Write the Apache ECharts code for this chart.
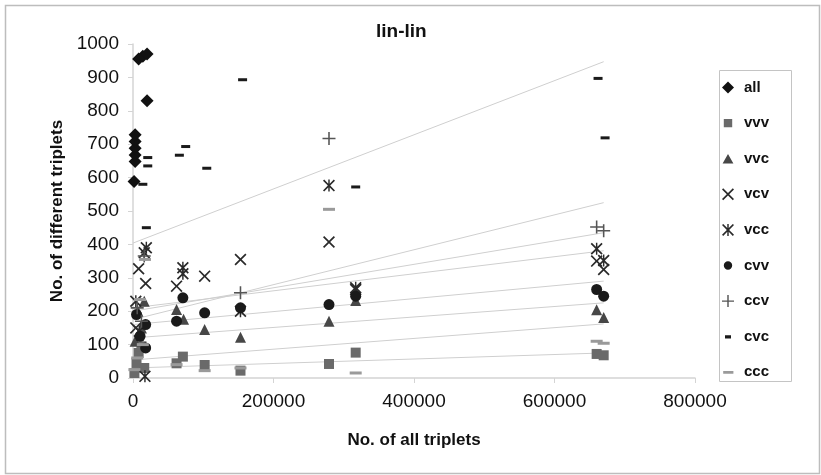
<!DOCTYPE html>
<html>
<head>
<meta charset="utf-8">
<script src="https://cdn.jsdelivr.net/npm/echarts@6/dist/echarts.min.js"></script>
<style>
  html, body { margin: 0; padding: 0; background: #fff; }
  #chart { width: 821px; height: 475px; }
</style>
</head>
<body>
<div id="chart"></div>
<script>
// x ticks and y ticks
const xTicks = [0, 200000, 400000, 600000, 800000];
const yTicks = [0, 100, 200, 300, 400, 500, 600, 700, 800, 900, 1000];

const seriesNames = ["all", "vvv", "vvc", "vcv", "vcc", "cvv", "ccv", "cvc", "ccc"];

// points per series: [no. of all triplets, no. of different triplets]
const allPts = [[1500, 588], [3000, 648], [3000, 668], [3000, 688], [3000, 708], [3000, 728], [8000, 955], [14000, 963], [20000, 970], [20000, 830]];
const vvvPts = [[2000, 15], [5000, 45], [8000, 75], [12000, 95], [16000, 30], [62000, 44], [71000, 64], [102000, 39], [153000, 22], [279000, 42], [317000, 76], [660000, 72], [670000, 68]];
const vvcPts = [[3000, 110], [7000, 200], [12000, 150], [16000, 230], [62000, 205], [72000, 176], [102000, 145], [153000, 122], [279000, 170], [317000, 232], [660000, 204], [670000, 181]];
const vcvPts = [[4000, 150], [8000, 327], [18000, 283], [62000, 275], [102000, 305], [153000, 355], [279000, 407], [317000, 265], [660000, 350], [670000, 325]];
const vccPts = [[4000, 230], [9000, 140], [16000, 375], [19000, 390], [17000, 5], [71000, 330], [71000, 312], [153000, 200], [279000, 576], [317000, 270], [660000, 387], [670000, 352]];
const cvvPts = [[5000, 190], [10000, 125], [18000, 160], [18000, 90], [62000, 170], [71000, 240], [102000, 195], [153000, 210], [279000, 220], [317000, 245], [660000, 265], [670000, 245]];
const ccvPts = [[6000, 210], [12000, 170], [16000, 365], [153000, 255], [279000, 717], [660000, 452], [670000, 441]];
const cvcPts = [[14000, 580], [19000, 450], [21000, 660], [21000, 635], [66000, 667], [75000, 693], [105000, 628], [156000, 893], [317000, 572], [662000, 897], [672000, 719]];
const cccPts = [[2000, 25], [6000, 60], [10000, 235], [14000, 100], [17000, 355], [62000, 40], [102000, 22], [153000, 30], [279000, 505], [317000, 15], [660000, 110], [670000, 104]];

// linear trend lines: value at x = 0 and at x = trendEndX
const trendEndX = 670000;
const trendNames = ["cvc", "ccv", "vcc", "vcv", "cvv", "vvc", "ccc", "vvv"];
const trendStart = [404, 175, 200, 210, 160, 120, 54, 30];
const trendEnd = [947, 525, 435, 381, 290, 225, 162, 75];

const xPath = "path://M0,1 L1,0 L5,4 L9,0 L10,1 L6,5 L10,9 L9,10 L5,6 L1,10 L0,9 L4,5 Z";
const starPath = "path://M0,1 L1,0 L5,4 L9,0 L10,1 L6,5 L10,9 L9,10 L5,6 L1,10 L0,9 L4,5 Z M4.4,0 L5.6,0 L5.6,10 L4.4,10 Z";
const plusPath = "path://M4.4,0 L5.6,0 L5.6,4.4 L10,4.4 L10,5.6 L5.6,5.6 L5.6,10 L4.4,10 L4.4,5.6 L0,5.6 L0,4.4 L4.4,4.4 Z";
// legend icons for the dash markers (empty corner points keep the box square)
const shortDash = "path://M0,0 Z M2.5,3.8 L7.5,3.8 L7.5,6.4 L2.5,6.4 Z M10,10 Z";
const longDash = "path://M0,0 Z M1,4 L9.5,4 L9.5,6.2 L1,6.2 Z M10,10 Z";
const smallSquare = "path://M0,0 Z M1.5,1.5 L8.5,1.5 L8.5,8.5 L1.5,8.5 Z M10,10 Z";
const smallTriangle = "path://M0,0 Z M5,1 L9.5,9 L0.5,9 Z M10,10 Z";
const smallCircle = "path://M0,0 Z M5,1.5 A3.5,3.5 0 1 1 4.99,1.5 Z M10,10 Z";

const style = {
  all: { data: allPts, symbol: "diamond", size: 13, color: "#111", icon: "diamond" },
  vvv: { data: vvvPts, symbol: "rect", size: 10, color: "#6a6a6a", icon: smallSquare },
  vvc: { data: vvcPts, symbol: "triangle", size: 11, color: "#474747", icon: smallTriangle },
  vcv: { data: vcvPts, symbol: xPath, size: 12, color: "#2a2a2a", icon: xPath },
  vcc: { data: vccPts, symbol: starPath, size: 12, color: "#2a2a2a", icon: starPath },
  cvv: { data: cvvPts, symbol: "circle", size: 11, color: "#1a1a1a", icon: smallCircle },
  ccv: { data: ccvPts, symbol: plusPath, size: 13, color: "#555", icon: plusPath },
  cvc: { data: cvcPts, symbol: "rect", size: [9, 3], color: "#1a1a1a", icon: shortDash },
  ccc: { data: cccPts, symbol: "rect", size: [12, 3], color: "#9a9a9a", icon: longDash }
};

const series = [];
trendNames.forEach(function(name, i) {
  series.push({
    name: name + "-trend",
    type: "line",
    silent: true,
    symbol: "none",
    z: 1,
    lineStyle: { color: "#cfcfcf", width: 1 },
    data: [[0, trendStart[i]], [trendEndX, trendEnd[i]]]
  });
});
seriesNames.forEach(function(name) {
  const s = style[name];
  series.push({
    name: name,
    type: "scatter",
    symbol: s.symbol,
    symbolSize: s.size,
    z: 3,
    itemStyle: { color: s.color, opacity: 1 },
    data: s.data
  });
});

const axisGray = "#d4d4d4";
const chart = echarts.init(document.getElementById("chart"));
chart.setOption({
  animation: false,
  title: {
    text: "lin-lin",
    left: 371,
    top: 17,
    textStyle: { fontFamily: "Liberation Sans", fontSize: 19, fontWeight: "bold", color: "#111" }
  },
  grid: { left: 133, right: 126, top: 44, bottom: 97 },
  legend: {
    data: seriesNames.map(function(name) { return { name: name, icon: style[name].icon }; }),
    orient: "vertical",
    left: 722,
    top: 80,
    padding: 0,
    itemWidth: 12,
    itemHeight: 12,
    itemGap: 20.6,
    textStyle: { fontFamily: "Liberation Sans", fontSize: 15, fontWeight: "bold", color: "#111", lineHeight: 14, padding: [0, 0, 0, 5] }
  },
  xAxis: {
    type: "value",
    min: xTicks[0],
    max: xTicks[xTicks.length - 1],
    interval: 200000,
    name: "No. of all triplets",
    nameLocation: "middle",
    nameGap: 54,
    nameTextStyle: { fontFamily: "Liberation Sans", fontSize: 17, fontWeight: "bold", color: "#111" },
    axisLine: { show: true, lineStyle: { color: axisGray, width: 1.5 } },
    axisTick: { show: true, length: 5, lineStyle: { color: axisGray } },
    splitLine: { show: false },
    axisLabel: {
      fontFamily: "Liberation Sans", fontSize: 19, color: "#111", margin: 14,
      formatter: function(v) { return String(v); }
    }
  },
  yAxis: {
    type: "value",
    min: yTicks[0],
    max: yTicks[yTicks.length - 1],
    interval: 100,
    name: "No. of different triplets",
    nameLocation: "middle",
    nameGap: 36,
    nameTextStyle: { fontFamily: "Liberation Sans", fontSize: 17, fontWeight: "bold", color: "#111" },
    axisLine: { show: true, lineStyle: { color: axisGray, width: 1.5 } },
    axisTick: { show: true, length: 5, lineStyle: { color: axisGray } },
    splitLine: { show: false },
    axisLabel: {
      fontFamily: "Liberation Sans", fontSize: 19, color: "#111", margin: 14,
      formatter: function(v) { return String(v); }
    }
  },
  graphic: [
    {
      type: "rect",
      left: 3, top: 3,
      shape: { width: 814, height: 468 },
      style: { fill: "none", stroke: "#bdbdbd", lineWidth: 1.5 },
      silent: true
    },
    {
      type: "rect",
      left: 717, top: 68,
      shape: { width: 72, height: 311 },
      style: { fill: "none", stroke: "#c4c4c4", lineWidth: 1 },
      silent: true
    }
  ],
  series: series
});
</script>
</body>
</html>
